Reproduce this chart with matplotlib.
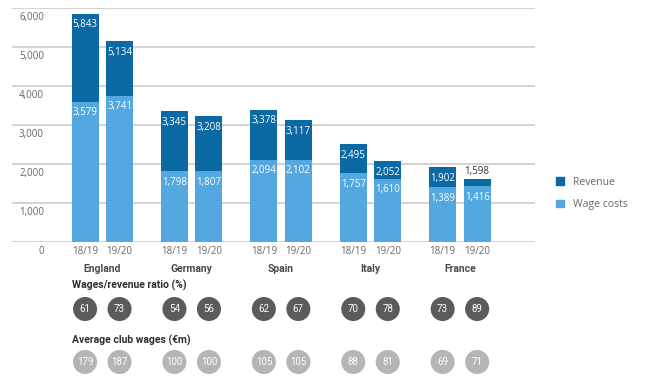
import numpy as np
import matplotlib
matplotlib.use('Agg')
import matplotlib.pyplot as plt
from matplotlib.patches import Patch
from matplotlib.transforms import ScaledTranslation

# data
countries = ['England', 'Germany', 'Spain', 'Italy', 'France']
seasons = ['18/19', '19/20']
revenue = [[5843, 5134], [3345, 3208], [3378, 3117], [2495, 2052], [1902, 1598]]
wages = [[3579, 3741], [1798, 1807], [2094, 2102], [1757, 1610], [1389, 1416]]
ratio = [[61, 73], [54, 56], [62, 67], [70, 78], [73, 89]]
avg_wages = [[179, 187], [100, 100], [105, 105], [88, 81], [69, 71]]
y_ticks = [0, 1000, 2000, 3000, 4000, 5000, 6000]

dark_blue = '#0b69a3'
light_blue = '#52a8df'
dark_grey = '#5a5b5d'
light_grey = '#b5b5b5'
text_grey = '#666666'
grid_grey = '#c8c8c8'

base_font = ['Open Sans', 'DejaVu Sans']
narrow_font = ['Roboto', 'DejaVu Sans']
plt.rcParams['font.family'] = base_font

fig = plt.figure(figsize=(6.6, 3.85), dpi=100)
ax = fig.add_axes([0.0182, 0.3727, 0.7924, 0.6078])

offset = 0.193
width = 0.302
group_x = np.arange(len(countries))

for i in range(len(countries)):
    for j in range(2):
        x = group_x[i] + (j * 2 - 1) * offset
        w = wages[i][j]
        r = revenue[i][j]
        ax.bar(x, w, width=width, color=light_blue, zorder=3)
        ax.bar(x, r - w, bottom=w, width=width, color=dark_blue, zorder=3)
        ax.annotate('{:,}'.format(w), (x, w), xytext=(0, -4), textcoords='offset points',
                    ha='center', va='top', color='white', fontsize=7, zorder=4)
        if r - w > 250:
            ax.annotate('{:,}'.format(r), (x, r), xytext=(0, -4), textcoords='offset points',
                        ha='center', va='top', color='white', fontsize=7, zorder=4)
        else:
            ax.annotate('{:,}'.format(r), (x, r), xytext=(0, 1.5), textcoords='offset points',
                        ha='center', va='bottom', color='#333333', fontsize=7, zorder=4)

ax.set_xlim(-1.01, 4.84)
ax.set_ylim(0, 6000)
ax.set_yticks(y_ticks)
ax.set_yticklabels(['{:,}'.format(t) for t in y_ticks])
ax.yaxis.grid(True, color=grid_grey, linewidth=1.1, zorder=0)
ax.tick_params(axis='y', length=0, pad=-23, labelsize=7, labelcolor=text_grey)
for lab in ax.get_yticklabels():
    lab.set_transform(lab.get_transform() + ScaledTranslation(0, -0.08, fig.dpi_scale_trans))

bar_x = [g + (j * 2 - 1) * offset for g in group_x for j in range(2)]
ax.set_xticks(bar_x)
ax.set_xticklabels(seasons * len(countries))
ax.set_xticks(group_x, minor=True)
ax.set_xticklabels(countries, minor=True, fontweight='bold', family=narrow_font)
ax.tick_params(axis='x', which='major', length=0, pad=3, labelsize=7, labelcolor=text_grey)
ax.tick_params(axis='x', which='minor', length=0, pad=16, labelsize=7.5, labelcolor='#4a4a4a')
for s in ax.spines.values():
    s.set_visible(False)

# circles rows below the chart
ax2 = fig.add_axes([0.0182, 0.0, 0.7924, 0.2935], sharex=ax)
ax2.set_ylim(0, 113)
ax2.axis('off')
title_x = group_x[0] - offset - width / 2
rows = [('Wages/revenue ratio (%)', ratio, dark_grey, 100, 76),
        ('Average club wages (\u20acm)', avg_wages, light_grey, 45, 23)]
for title, vals, col, ty, cy in rows:
    ax2.text(title_x, ty, title, ha='left', va='center', fontsize=7.5,
             fontweight='bold', color='#2e2e2e', family=narrow_font)
    flat = [v for pair in vals for v in pair]
    ax2.scatter(bar_x, [cy] * len(bar_x), s=300, color=col, edgecolors='none', clip_on=False)
    for x, v in zip(bar_x, flat):
        ax2.text(x, cy, str(v), ha='center', va='center', fontsize=7,
                 color='white', family=narrow_font)

handles = [Patch(color=dark_blue, label='Revenue'), Patch(color=light_blue, label='Wage costs')]
fig.legend(handles=handles, loc='upper left', bbox_to_anchor=(0.835, 0.555), frameon=False,
           fontsize=7.5, labelcolor=text_grey, handlelength=0.7, handleheight=0.7,
           handletextpad=0.9, labelspacing=1.1, borderpad=0)

fig.savefig('out.png', dpi=100)
